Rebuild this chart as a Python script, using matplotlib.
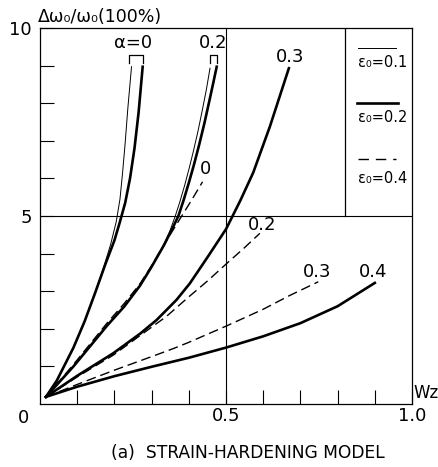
import matplotlib
matplotlib.use("Agg")
import matplotlib.pyplot as plt

# ---- data ----
# eps0 = 0.1 (thin solid)
a0_e1_x = [0.016, 0.045, 0.09, 0.12, 0.148, 0.17, 0.19, 0.205, 0.215, 0.222, 0.229, 0.236, 0.246]
a0_e1_y = [0.19, 0.62, 1.5, 2.2, 2.95, 3.6, 4.25, 4.85, 5.45, 6.15, 6.95, 7.85, 8.97]
a2_e1_x = [0.016, 0.09, 0.18, 0.227, 0.269, 0.3, 0.331, 0.349, 0.363, 0.376, 0.389, 0.401,
           0.413, 0.425, 0.436, 0.447, 0.457]
a2_e1_y = [0.19, 1.0, 2.08, 2.6, 3.15, 3.65, 4.2, 4.6, 4.98, 5.38, 5.82, 6.27,
           6.75, 7.27, 7.8, 8.35, 8.93]
# eps0 = 0.2 (thick solid)
a0_e2_x = [0.016, 0.045, 0.09, 0.12, 0.148, 0.175, 0.2, 0.215, 0.229, 0.242, 0.254, 0.265, 0.276]
a0_e2_y = [0.19, 0.62, 1.5, 2.2, 2.95, 3.7, 4.35, 4.85, 5.35, 6.0, 6.8, 7.75, 8.97]
a2_e2_x = [0.016, 0.09, 0.18, 0.227, 0.269, 0.3, 0.333, 0.355, 0.372, 0.386, 0.4, 0.414,
           0.428, 0.442, 0.455, 0.466, 0.475]
a2_e2_y = [0.19, 1.0, 2.08, 2.6, 3.15, 3.65, 4.22, 4.65, 5.0, 5.42, 5.88, 6.37,
           6.9, 7.47, 8.05, 8.55, 8.97]
a3_e2_x = [0.016, 0.1, 0.197, 0.269, 0.313, 0.367, 0.403, 0.45, 0.5, 0.538, 0.573, 0.618, 0.669]
a3_e2_y = [0.19, 0.75, 1.35, 1.87, 2.23, 2.77, 3.21, 3.9, 4.65, 5.4, 6.15, 7.38, 8.93]
a4_e2_x = [0.016, 0.1, 0.2, 0.3, 0.4, 0.5, 0.6, 0.7, 0.8, 0.9]
a4_e2_y = [0.19, 0.46, 0.74, 0.99, 1.23, 1.5, 1.8, 2.15, 2.6, 3.22]
# eps0 = 0.4 (dashed)
a0_e4_x = [0.016, 0.09, 0.18, 0.227, 0.269, 0.3, 0.331, 0.381, 0.408, 0.437]
a0_e4_y = [0.19, 1.05, 2.15, 2.68, 3.2, 3.68, 4.2, 5.0, 5.43, 5.91]
a2_e4_x = [0.016, 0.1, 0.197, 0.269, 0.34, 0.4, 0.45, 0.5, 0.55, 0.591]
a2_e4_y = [0.19, 0.72, 1.3, 1.82, 2.33, 2.85, 3.27, 3.72, 4.16, 4.54]
a3_e4_x = [0.016, 0.1, 0.2, 0.3, 0.36, 0.4, 0.5, 0.6, 0.67, 0.748]
a3_e4_y = [0.19, 0.52, 0.9, 1.26, 1.48, 1.64, 2.07, 2.52, 2.88, 3.25]

x_ticks = [0.1, 0.2, 0.3, 0.4, 0.5, 0.6, 0.7, 0.8, 0.9, 1.0]
x_ticklabels = ["", "", "", "", "0.5", "", "", "", "", "1.0"]
y_ticks = [1, 2, 3, 4, 5, 6, 7, 8, 9, 10]
y_ticklabels = ["", "", "", "", "5", "", "", "", "", "10"]
legend_labels = ["ε₀=0.1", "ε₀=0.2", "ε₀=0.4"]
title = "(a)  STRAIN-HARDENING MODEL"
ylabel = "Δω₀/ω₀(100%)"
xlabel = "Wz"

# ---- drawing ----
plt.rcParams["font.family"] = ["DejaVu Sans"]
fig = plt.figure(figsize=(4.39, 4.67), dpi=100)
ax = fig.add_axes([40 / 439, 1 - 404 / 467, 372 / 439, 376 / 467])
ax.set_xlim(0, 1.0)
ax.set_ylim(0, 10)

K = "black"
thin = 0.7
thick = 1.9
dlw = 1.0
dash = (7, 3.5)

ax.plot(a0_e1_x, a0_e1_y, color=K, lw=thin)
ax.plot(a2_e1_x, a2_e1_y, color=K, lw=thin)
ax.plot(a0_e2_x, a0_e2_y, color=K, lw=thick)
ax.plot(a2_e2_x, a2_e2_y, color=K, lw=thick)
ax.plot(a3_e2_x, a3_e2_y, color=K, lw=thick)
ax.plot(a4_e2_x, a4_e2_y, color=K, lw=thick)
for xs, ys in [(a0_e4_x, a0_e4_y), (a2_e4_x, a2_e4_y), (a3_e4_x, a3_e4_y)]:
    ax.plot(xs, ys, color=K, lw=dlw, dashes=dash)

# reference lines
ax.axvline(0.5, color=K, lw=0.8)
ax.axhline(5, color=K, lw=0.8)

# brackets over the alpha=0 and alpha=0.2 pairs
for x0, x1 in [(0.240, 0.276), (0.457, 0.477)]:
    ax.plot([x0, x0, x1, x1], [9.06, 9.28, 9.28, 9.06], color=K, lw=0.9)

fs = 13
ax.text(0.25, 9.6, "α=0", ha="center", va="center", fontsize=fs)
ax.text(0.465, 9.6, "0.2", ha="center", va="center", fontsize=fs)
ax.text(0.672, 9.23, "0.3", ha="center", va="center", fontsize=fs)
ax.text(0.444, 6.25, "0", ha="center", va="center", fontsize=fs)
ax.text(0.597, 4.76, "0.2", ha="center", va="center", fontsize=fs)
ax.text(0.745, 3.51, "0.3", ha="center", va="center", fontsize=fs)
ax.text(0.895, 3.51, "0.4", ha="center", va="center", fontsize=fs)

# legend panel
ax.plot([0.82, 0.82], [5, 10], color=K, lw=0.9)
ax.plot([0.855, 0.957], [9.46, 9.46], color=K, lw=thin)
ax.plot([0.852, 0.962], [8.0, 8.0], color=K, lw=thick)
ax.plot([0.855, 0.957], [6.52, 6.52], color=K, lw=dlw, dashes=(7.5, 5))
for yy, lab in zip([9.07, 7.62, 6.0], legend_labels):
    ax.text(0.922, yy, lab, ha="center", va="center", fontsize=10.5)

# ticks
ax.set_xticks(x_ticks)
ax.set_xticklabels(x_ticklabels)
ax.set_yticks(y_ticks)
ax.set_yticklabels(y_ticklabels)
ax.tick_params(axis="x", direction="in", length=10, width=0.8, pad=2, labelsize=13)
ax.tick_params(axis="y", direction="in", length=10, width=0.8, pad=6, labelsize=13)
for s in ax.spines.values():
    s.set_linewidth(0.9)

ax.text(-0.045, -0.012, "0", transform=ax.transAxes, ha="center", va="top", fontsize=13)
ax.text(1.003, 0.005, xlabel, transform=ax.transAxes, ha="left", va="bottom", fontsize=12)
ax.text(-0.005, 1.005, ylabel, transform=ax.transAxes, ha="left", va="bottom", fontsize=12.5)
fig.text(248 / 439, 1 - 453 / 467, title, ha="center", va="center", fontsize=12.3)

fig.savefig("out.png", dpi=100)
